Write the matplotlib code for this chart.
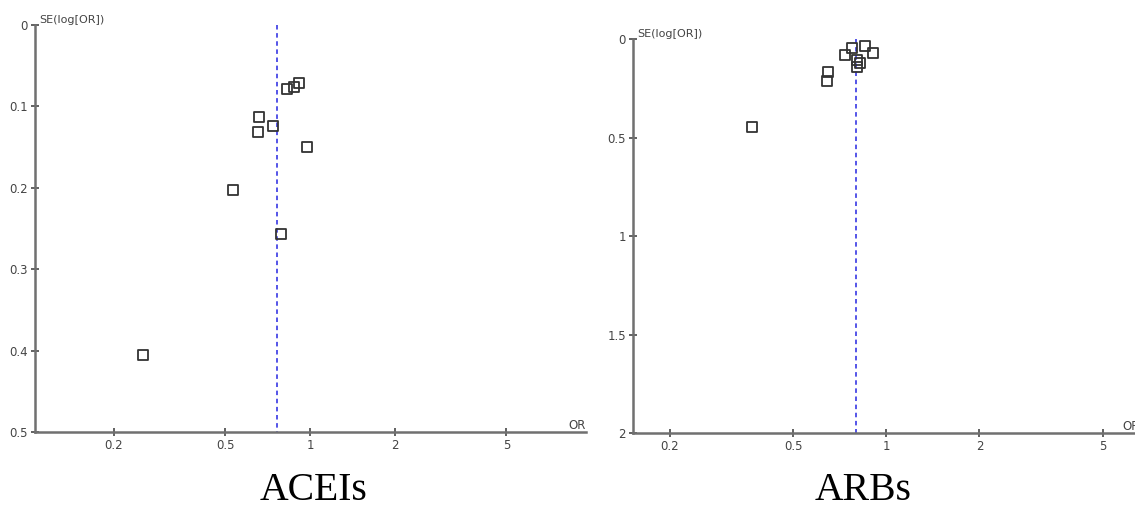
import matplotlib
matplotlib.use("Agg")
import matplotlib.pyplot as plt

# Funnel plot data: odds ratios and standard errors of log(OR)
acei_or = [0.914, 0.877, 0.828, 0.658, 0.653, 0.738, 0.976, 0.532, 0.788, 0.255]
acei_se = [0.071, 0.076, 0.079, 0.113, 0.131, 0.124, 0.150, 0.203, 0.257, 0.405]
acei_pooled = 0.76

arb_or = [0.368, 0.649, 0.644, 0.737, 0.776, 0.855, 0.908, 0.805, 0.824, 0.805]
arb_se = [0.447, 0.168, 0.213, 0.081, 0.046, 0.036, 0.071, 0.107, 0.122, 0.142]
arb_pooled = 0.80

x_ticks = [0.2, 0.5, 1, 2, 5]
x_tick_labels = ["0.2", "0.5", "1", "2", "5"]
acei_y_ticks = [0, 0.1, 0.2, 0.3, 0.4, 0.5]
acei_y_labels = ["0", "0.1", "0.2", "0.3", "0.4", "0.5"]
arb_y_ticks = [0, 0.5, 1, 1.5, 2]
arb_y_labels = ["0", "0.5", "1", "1.5", "2"]

W, H = 1135, 507
fig = plt.figure(figsize=(W / 100, H / 100), dpi=100)
fig.patch.set_facecolor("white")

small_font = ["Liberation Sans Narrow", "DejaVu Sans"]
axis_color = "#707070"
text_color = "#444444"


def px_rect(x0, x1, y_top, y_bot):
    return [x0 / W, 1 - y_bot / H, (x1 - x0) / W, (y_bot - y_top) / H]


def funnel(ax, ors, ses, pooled, xlim, ymax, yticks, ylabels, title, title_x):
    ax.set_xscale("log")
    ax.set_xlim(*xlim)
    ax.set_ylim(ymax, 0)
    ax.scatter(ors, ses, marker="s", s=52, facecolors="none",
               edgecolors="#333333", linewidths=1.3, zorder=3, clip_on=False)
    ax.plot([pooled, pooled], [0, ymax], color="#4646e6", lw=1.3,
            linestyle=(0, (2.5, 2.0)), zorder=2)
    for side in ("top", "right"):
        ax.spines[side].set_visible(False)
    for side in ("left", "bottom"):
        ax.spines[side].set_color(axis_color)
        ax.spines[side].set_linewidth(1.8)
    ax.set_xticks(x_ticks)
    ax.set_xticklabels(x_tick_labels)
    ax.xaxis.set_minor_locator(matplotlib.ticker.NullLocator())
    ax.set_yticks(yticks)
    ax.set_yticklabels(ylabels)
    ax.tick_params(direction="inout", length=6, width=1.3, color="#555555",
                   labelsize=8.5, labelcolor=text_color, pad=2)
    for lab in ax.get_xticklabels() + ax.get_yticklabels():
        lab.set_family(small_font)
    ax.text(0.008, 1.0, "SE(log[OR])", transform=ax.transAxes, ha="left",
            va="bottom", fontsize=8, color=text_color, family=small_font)
    ax.text(1.0, 0.0, "OR", transform=ax.transAxes, ha="right",
            va="bottom", fontsize=8.5, color=text_color, family=small_font)
    fig.text(title_x / W, 1 - 500 / H, title, ha="center", va="baseline",
             fontsize=28.5, family=["Liberation Serif", "DejaVu Serif"],
             color="black")


ax1 = fig.add_axes(px_rect(35, 586, 25, 432))
funnel(ax1, acei_or, acei_se, acei_pooled, (0.105, 9.6), 0.5,
       acei_y_ticks, acei_y_labels, "ACEIs", 314)

ax2 = fig.add_axes(px_rect(633, 1140, 39, 433))
funnel(ax2, arb_or, arb_se, arb_pooled, (0.152, 6.6), 2,
       arb_y_ticks, arb_y_labels, "ARBs", 863)

fig.savefig("out.png", dpi=100, facecolor="white")
